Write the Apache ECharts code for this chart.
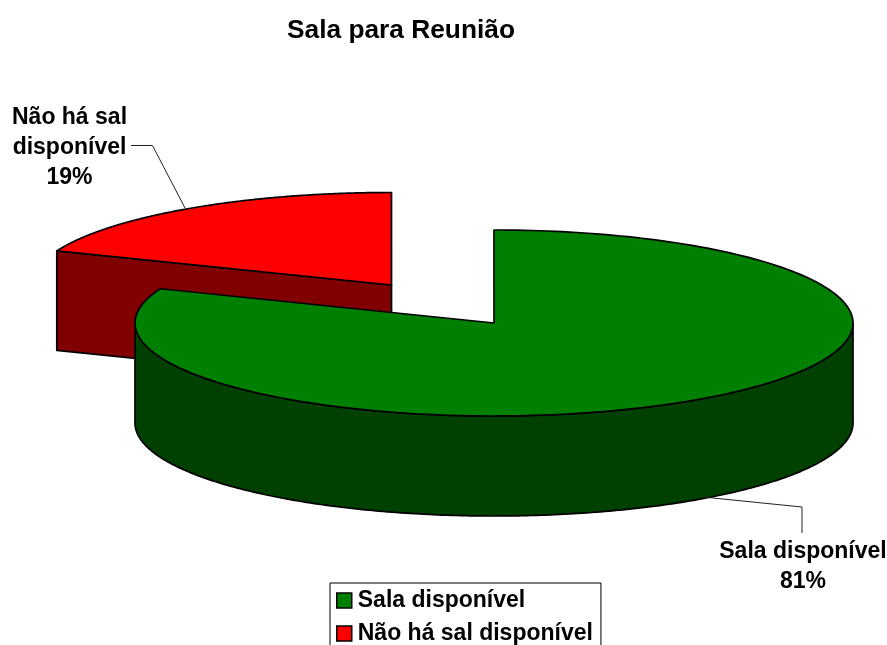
<!DOCTYPE html>
<html>
<head>
<meta charset="utf-8">
<style>html,body{margin:0;padding:0;background:#fff;overflow:hidden}#c{width:887px;height:645px}</style>
<script src="https://cdn.jsdelivr.net/npm/echarts@6/dist/echarts.min.js"></script>
</head>
<body>
<div id="c"></div>
<script>
const titleText = 'Sala para Reunião';
const categories = ['Sala disponível', 'Não há sal disponível'];
const values = [81, 19];
const labelLines = [['Sala disponível'], ['Não há sal', 'disponível']];
const topColors = ['#008000', '#FF0000'];
const wallColors = ['#004000', '#800000'];

// layout of each exploded slice (pie centre in pixels, ellipse radii, extrusion)
const pieLayout = [
  {cx: 494, cy: 323, rx: 359, ry: 93, depth: 100, labelX: 803, labelY: 567,
   leader: [[703, 497], [802, 507], [802, 533]]},
  {cx: 391.5, cy: 285, rx: 360, ry: 92.5, depth: 99.5, labelX: 69.5, labelY: 148,
   leader: [[131, 145.5], [152.5, 145.5], [185, 208]]}
];

const total = values.reduce((a, b) => a + b, 0);
function rimPoint(g, fraction, dy) {
  const t = fraction * 2 * Math.PI;
  return [g.cx + g.rx * Math.sin(t), g.cy - g.ry * Math.cos(t) + (dy || 0)];
}
function rim(g, from, to, dy) {
  const n = 240, pts = [];
  for (let i = 0; i <= n; i++) pts.push(rimPoint(g, from + (to - from) * i / n, dy));
  return pts;
}
const edge = {stroke: '#000', lineWidth: 1.7, lineJoin: 'round'};

function makeRender(idx) {
  return function (params, api) {
    const v = api.value(0);
    const g = pieLayout[idx];
    let before = 0;
    for (let i = 0; i < idx; i++) before += values[i];
    const from = before / total, to = (before + v) / total;
    const children = [];
    // visible outer wall (front half of the rim)
    const a = Math.max(from, 0.25), b = Math.min(to, 0.75);
    if (b > a) {
      children.push({type: 'polygon',
        shape: {points: rim(g, a, b, 0).concat(rim(g, b, a, g.depth))},
        style: Object.assign({fill: wallColors[idx]}, edge)});
    }
    // visible cut face of the wedge whose start lies on the back-left of the rim
    if (from > 0.5 && from < 1) {
      const p = rimPoint(g, from);
      children.push({type: 'polygon',
        shape: {points: [p, [g.cx, g.cy], [g.cx, g.cy + g.depth], [p[0], p[1] + g.depth]]},
        style: Object.assign({fill: wallColors[idx]}, edge)});
    }
    // top face
    children.push({type: 'polygon',
      shape: {points: [[g.cx, g.cy]].concat(rim(g, from, to, 0))},
      style: Object.assign({fill: topColors[idx]}, edge)});
    // leader line
    children.push({type: 'polyline', shape: {points: g.leader},
      style: {stroke: '#222', lineWidth: 1, fill: 'none'}});
    // data label
    const pct = Math.round(v / total * 100) + '%';
    children.push({type: 'text',
      style: {x: g.labelX, y: g.labelY, text: labelLines[idx].concat([pct]).join('\n'),
        align: 'center', verticalAlign: 'middle', lineHeight: 30,
        font: 'bold 23px "Liberation Sans", Arial, sans-serif', fill: '#000'}});
    return {type: 'group', children};
  };
}

const chart = echarts.init(document.getElementById('c'), null, {renderer: 'canvas'});
chart.setOption({
  animation: false,
  backgroundColor: '#fff',
  title: {
    text: titleText, left: 287, top: 18,
    textStyle: {fontFamily: '"Liberation Sans", Arial, sans-serif', fontWeight: 'bold', fontSize: 26.3, color: '#000'},
    padding: 0
  },
  legend: {
    data: categories, orient: 'vertical', left: 330, top: 583, height: 80,
    padding: [6, 8, 6, 6], itemGap: 10, itemWidth: 15, itemHeight: 15,
    borderColor: '#000', borderWidth: 1, backgroundColor: '#fff',
    icon: 'rect', selectedMode: false,
    itemStyle: {borderColor: '#000', borderWidth: 1.5},
    textStyle: {fontFamily: '"Liberation Sans", Arial, sans-serif', fontWeight: 'bold', fontSize: 23, color: '#000', lineHeight: 23, padding: [0, 0, 0, 1]}
  },
  series: categories.map((name, i) => ({
    type: 'custom', name, coordinateSystem: 'none', silent: true,
    z: i === 0 ? 3 : 2,
    itemStyle: {color: topColors[i]},
    data: [[values[i]]],
    renderItem: makeRender(i)
  }))
});
</script>
</body>
</html>
